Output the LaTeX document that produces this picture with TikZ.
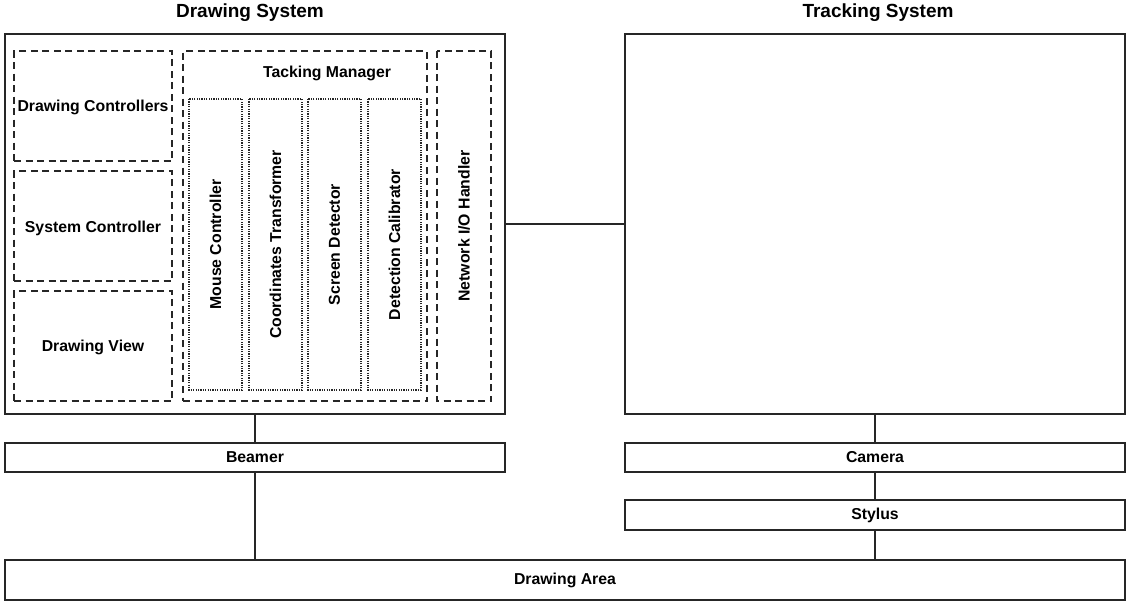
\documentclass[tikz,border=0pt]{standalone}
\usepackage{fontspec}
\setmainfont{Liberation Sans}
\begin{document}
\begin{tikzpicture}[x=1pt,y=-1pt,
  txt/.style={font=\bfseries\fontsize{15.8}{18}\selectfont},
  box/.style={txt,draw=black!85,line width=1.4pt,inner sep=0pt,outer sep=0pt,fill=white},
  dbox/.style={txt,draw=black!85,line width=1.2pt,dash pattern=on 7pt off 4.5pt,inner sep=0pt,outer sep=0pt},
  obox/.style={txt,draw=black!85,line width=1.2pt,dash pattern=on 1.2pt off 1.2pt,inner sep=0pt,outer sep=0pt,
    rotate=90},
  title/.style={font=\bfseries\fontsize{19}{22}\selectfont,inner sep=0pt},
  lbl/.style={txt,inner sep=0pt},
  link/.style={draw=black!85,line width=1.4pt}]
\useasboundingbox[fill=white] (0,0) rectangle (1133,605);

\node[title] (t1) at (250,13) {Drawing System};
\node[title] (t2) at (878,13) {Tracking System};

\node[box,minimum width=500,minimum height=380] (ds) at (255,224) {};
\node[box,minimum width=500,minimum height=380] (ts) at (875,224) {};

\node[dbox,minimum width=158,minimum height=110,text height=15pt,text depth=3.3pt] (dc) at (93,106) {Drawing Controllers};
\node[dbox,minimum width=158,minimum height=110,text height=17pt,text depth=3.3pt] (sc) at (93,226) {System Controller};
\node[dbox,minimum width=158,minimum height=110,text height=13.5pt,text depth=3.3pt] (dv) at (93,346) {Drawing View};
\node[dbox,minimum width=244,minimum height=350] (tm) at (305,226) {};
\node[lbl] (tml) at (327,73) {Tacking Manager};
\node[obox,minimum width=291,minimum height=53] (mc) at (215.5,244.5) {Mouse Controller};
\node[obox,minimum width=291,minimum height=53] (ct) at (275.5,244.5) {Coordinates Transformer};
\node[obox,minimum width=291,minimum height=53] (sd) at (334.5,244.5) {Screen Detector};
\node[obox,minimum width=291,minimum height=53] (dcal) at (394.5,244.5) {Detection Calibrator};
\node[dbox,rotate=90,minimum width=350,minimum height=54] (net) at (464,226) {Network I/O Handler};

\node[box,minimum width=500,minimum height=29] (beamer) at (255,457.5) {Beamer};
\node[box,minimum width=500,minimum height=29] (camera) at (875,457.5) {Camera};
\node[box,minimum width=500,minimum height=30] (stylus) at (875,515) {Stylus};
\node[box,minimum width=1120,minimum height=40] (area) at (565,580) {Drawing Area};

\draw[link] (ds.east) -- (ts.west);
\draw[link] (ds.south) -- (beamer.north);
\draw[link] (beamer.south) -- (beamer.south |- area.north);
\draw[link] (ts.south) -- (camera.north);
\draw[link] (camera.south) -- (stylus.north);
\draw[link] (stylus.south) -- (stylus.south |- area.north);
\end{tikzpicture}
\end{document}
